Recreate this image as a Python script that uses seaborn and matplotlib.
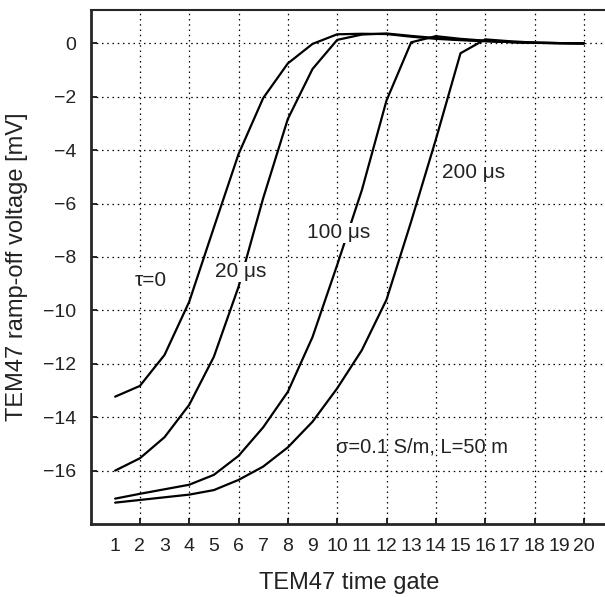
import pandas as pd
import seaborn as sns
import matplotlib.pyplot as plt

# Dados (tensão de ramp-off por janela de tempo)
gates = list(range(1, 21))
tau_0 = [-13.23, -12.83, -11.67, -9.68, -6.9, -4.15, -2.05, -0.75, -0.02, 0.34,
         0.36, 0.35, 0.25, 0.17, 0.12, 0.08, 0.05, 0.02, 0.01, 0.0]
tau_20 = [-16.0, -15.54, -14.75, -13.54, -11.74, -9.12, -5.8, -2.83, -0.96, 0.13,
          0.33, 0.37, 0.28, 0.2, 0.14, 0.09, 0.05, 0.02, 0.01, 0.0]
tau_100 = [-17.05, -16.87, -16.7, -16.53, -16.16, -15.45, -14.38, -13.05, -11.0, -8.3,
           -5.5, -2.14, 0.04, 0.27, 0.17, 0.1, 0.05, 0.02, 0.01, 0.0]
tau_200 = [-17.2, -17.1, -17.0, -16.9, -16.73, -16.35, -15.85, -15.13, -14.17, -12.92,
           -11.49, -9.6, -6.67, -3.6, -0.37, 0.15, 0.08, 0.03, 0.01, 0.0]
series = ["τ=0", "20 μs", "100 μs", "200 μs"]

df = pd.DataFrame({
    "gate": gates * 4,
    "v": tau_0 + tau_20 + tau_100 + tau_200,
    "serie": [s for s in series for _ in gates],
})

sns.set_style("ticks")
plt.rcParams["font.family"] = ["Liberation Sans", "DejaVu Sans"]
plt.rcParams["text.color"] = "#222222"
plt.rcParams["axes.labelcolor"] = "#222222"
plt.rcParams["xtick.color"] = "black"
plt.rcParams["ytick.color"] = "black"
plt.rcParams["xtick.labelcolor"] = "#222222"
plt.rcParams["ytick.labelcolor"] = "#222222"

fig = plt.figure(figsize=(6.05, 5.97), dpi=100)
ax = fig.add_axes([90.5 / 605, 1 - 524 / 597, 518 / 605, 514 / 597])

sns.lineplot(data=df, x="gate", y="v", hue="serie", palette=["black"] * 4,
             linewidth=1.6, legend=False, ax=ax)

ax.set_xlim(0, 21)
ax.set_ylim(-18, 1.25)

# rótulos em todas as janelas, grade só nas pares
ax.xaxis.remove_overlapping_locs = False
ax.set_xticks(gates)
ax.set_xticks(range(2, 21, 2), minor=True)
ax.set_yticks(range(-16, 1, 2))
ax.tick_params(axis="x", which="major", length=0, pad=10, labelsize=14)
ax.tick_params(axis="x", which="minor", direction="in", length=4, width=1.2)
ax.tick_params(axis="y", which="major", direction="in", length=4, width=1.2,
               pad=10, labelsize=14)
dots = dict(color="black", linestyle=(0, (1.2, 3)), linewidth=0.9)
ax.grid(False, which="major", axis="x")
ax.grid(True, which="minor", axis="x", **dots)
ax.grid(True, which="major", axis="y", **dots)

for s in ["left", "bottom"]:
    ax.spines[s].set_linewidth(2.0)
ax.spines["top"].set_linewidth(1.5)
ax.spines["right"].set_linewidth(1.5)

ax.set_xlabel("TEM47 time gate", fontsize=17, labelpad=12)
ax.set_ylabel("TEM47 ramp-off voltage [mV]", fontsize=17, labelpad=11)

# anotações das curvas
fundo = dict(facecolor="white", edgecolor="none", pad=0.5)
ax.text(2.43, -8.87, "τ=0", fontsize=15, ha="center", va="center", bbox=fundo)
ax.text(6.1, -8.55, "20 μs", fontsize=15, ha="center", va="center", bbox=fundo)
ax.text(10.06, -7.1, "100 μs", fontsize=15, ha="center", va="center", bbox=fundo)
ax.text(15.54, -4.85, "200 μs", fontsize=15, ha="center", va="center", bbox=fundo)
ax.text(9.95, -15.1, "σ=0.1 S/m, L=50 m", fontsize=14.5, ha="left", va="center")

plt.savefig("out.png", dpi=100)
